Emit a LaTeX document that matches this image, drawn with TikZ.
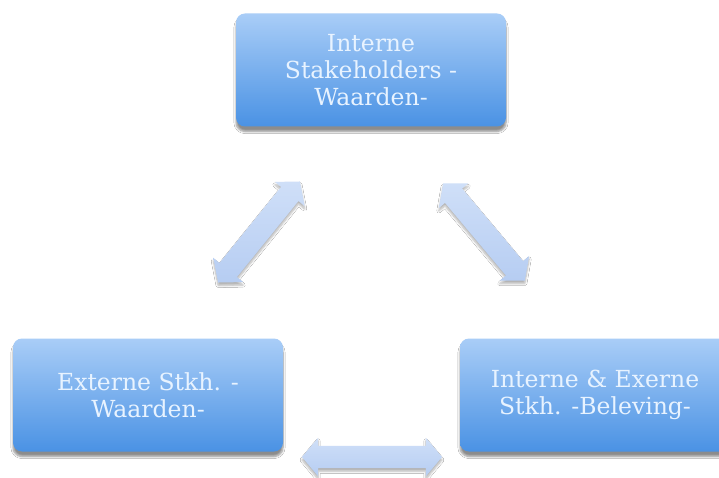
\documentclass[tikz,border=0pt]{standalone}
\usepackage{fontspec}
\setmainfont{DejaVu Serif}
\usetikzlibrary{shapes.arrows,shadows.blur}
\definecolor{boxtop}{HTML}{A9CDF7}
\definecolor{boxbot}{HTML}{4A92E4}
\definecolor{arrtop}{HTML}{CFDFF8}
\definecolor{arrbot}{HTML}{B6CDF2}
\definecolor{txt}{HTML}{E8F3FF}
\begin{document}
\begin{tikzpicture}[x=1pt,y=-1pt,
  stbox/.style={rounded corners=9pt, minimum width=270pt, minimum height=113pt,
    top color=boxtop, bottom color=boxbot, draw=none, text=txt, align=center,
    font=\fontsize{23.5}{27}\selectfont,
    blur shadow={shadow xshift=0pt, shadow yshift=-5pt, shadow blur steps=6, shadow opacity=45}},
  dblarrow/.style={double arrow, draw=none, top color=arrtop, bottom color=arrbot,
    double arrow head extend=8pt, double arrow tip angle=100,
    inner xsep=0pt, inner ysep=11pt, outer sep=0pt,
    blur shadow={shadow xshift=0pt, shadow yshift=-3pt, shadow blur steps=5, shadow opacity=30}}]
\useasboundingbox (0,0) rectangle (719,478);
\clip (0,0) rectangle (719,478);
\fill[white] (0,0) rectangle (719,478);
\node[stbox] (top) at (371,70) {Interne\\Stakeholders -\\Waarden-};
\node[stbox] (left) at (148,395) {Externe Stkh. -\\Waarden-};
\node[stbox] (right) at (595,395) {Interne \& Exerne\\Stkh. -Beleving-};
\node[dblarrow, minimum height=130pt, rotate=51] (a1) at (259,232) {};
\node[dblarrow, minimum height=127pt, rotate=-50] (a2) at (484,232) {};
\node[dblarrow, minimum height=140pt] (a3) at (372,457) {};
\end{tikzpicture}
\end{document}
